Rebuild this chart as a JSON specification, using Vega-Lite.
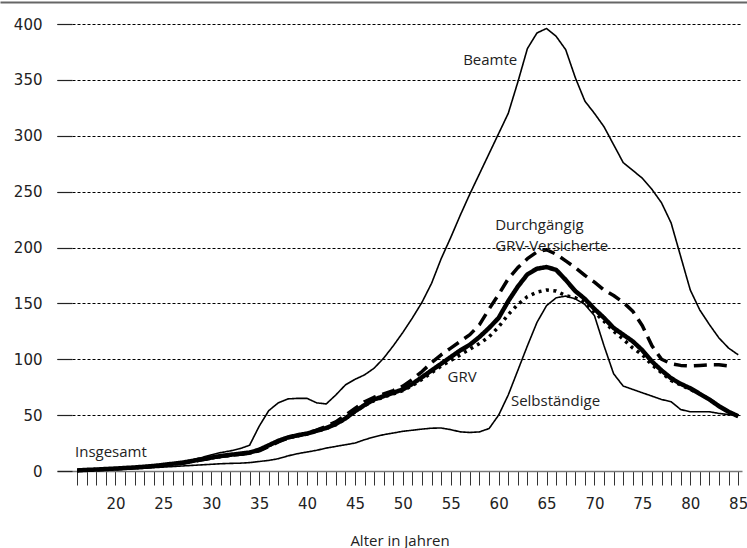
{
  "$schema": "https://vega.github.io/schema/vega-lite/v6.json",
  "width": 685,
  "height": 447,
  "autosize": {"type": "none"},
  "padding": {"left": 57, "top": 24, "right": 5, "bottom": 77},
  "background": "white",
  "config": {"view": {"stroke": null}, "font": "Open Sans"},
  "datasets": {
    "rates": [
      {"age": 16, "Beamte": 0.5, "Selbstaendige": 0.3, "Insgesamt": 0.5, "GRV": 0.5, "Durchgaengig": 0.4},
      {"age": 17, "Beamte": 1, "Selbstaendige": 0.5, "Insgesamt": 1, "GRV": 1, "Durchgaengig": 0.8},
      {"age": 18, "Beamte": 1.5, "Selbstaendige": 0.8, "Insgesamt": 1.3, "GRV": 1.3, "Durchgaengig": 1.2},
      {"age": 19, "Beamte": 2, "Selbstaendige": 1, "Insgesamt": 1.8, "GRV": 1.7, "Durchgaengig": 1.6},
      {"age": 20, "Beamte": 2.5, "Selbstaendige": 1.3, "Insgesamt": 2.2, "GRV": 2.1, "Durchgaengig": 2},
      {"age": 21, "Beamte": 3, "Selbstaendige": 1.6, "Insgesamt": 2.7, "GRV": 2.6, "Durchgaengig": 2.5},
      {"age": 22, "Beamte": 3.5, "Selbstaendige": 2, "Insgesamt": 3.2, "GRV": 3.1, "Durchgaengig": 3},
      {"age": 23, "Beamte": 4, "Selbstaendige": 2.4, "Insgesamt": 3.8, "GRV": 3.7, "Durchgaengig": 3.5},
      {"age": 24, "Beamte": 5, "Selbstaendige": 3, "Insgesamt": 4.5, "GRV": 4.4, "Durchgaengig": 4.2},
      {"age": 25, "Beamte": 6, "Selbstaendige": 3.5, "Insgesamt": 5.5, "GRV": 5.3, "Durchgaengig": 5},
      {"age": 26, "Beamte": 7, "Selbstaendige": 4, "Insgesamt": 6.5, "GRV": 6.3, "Durchgaengig": 6},
      {"age": 27, "Beamte": 8, "Selbstaendige": 4.5, "Insgesamt": 7.5, "GRV": 7.3, "Durchgaengig": 7},
      {"age": 28, "Beamte": 10, "Selbstaendige": 5, "Insgesamt": 9, "GRV": 8.8, "Durchgaengig": 8.5},
      {"age": 29, "Beamte": 12, "Selbstaendige": 5.5, "Insgesamt": 10.5, "GRV": 10.2, "Durchgaengig": 10},
      {"age": 30, "Beamte": 14.5, "Selbstaendige": 6, "Insgesamt": 12, "GRV": 11.7, "Durchgaengig": 11.5},
      {"age": 31, "Beamte": 16.5, "Selbstaendige": 6.5, "Insgesamt": 13.5, "GRV": 13.1, "Durchgaengig": 13},
      {"age": 32, "Beamte": 18, "Selbstaendige": 6.8, "Insgesamt": 14.5, "GRV": 14.1, "Durchgaengig": 14},
      {"age": 33, "Beamte": 20, "Selbstaendige": 7, "Insgesamt": 15.5, "GRV": 15, "Durchgaengig": 15},
      {"age": 34, "Beamte": 23, "Selbstaendige": 7.5, "Insgesamt": 16.5, "GRV": 16, "Durchgaengig": 16},
      {"age": 35, "Beamte": 40, "Selbstaendige": 8.5, "Insgesamt": 19, "GRV": 18.5, "Durchgaengig": 18},
      {"age": 36, "Beamte": 54, "Selbstaendige": 9.5, "Insgesamt": 23, "GRV": 22.5, "Durchgaengig": 22},
      {"age": 37, "Beamte": 61, "Selbstaendige": 11, "Insgesamt": 27, "GRV": 26.5, "Durchgaengig": 26},
      {"age": 38, "Beamte": 64.5, "Selbstaendige": 13.5, "Insgesamt": 30, "GRV": 29.5, "Durchgaengig": 29.5},
      {"age": 39, "Beamte": 65, "Selbstaendige": 15.5, "Insgesamt": 32, "GRV": 31.5, "Durchgaengig": 31.5},
      {"age": 40, "Beamte": 65, "Selbstaendige": 17, "Insgesamt": 33.5, "GRV": 33, "Durchgaengig": 33.5},
      {"age": 41, "Beamte": 61, "Selbstaendige": 18.5, "Insgesamt": 36, "GRV": 35.5, "Durchgaengig": 36.5},
      {"age": 42, "Beamte": 60, "Selbstaendige": 20.5, "Insgesamt": 38.5, "GRV": 38, "Durchgaengig": 40},
      {"age": 43, "Beamte": 68, "Selbstaendige": 22, "Insgesamt": 42, "GRV": 41.5, "Durchgaengig": 44},
      {"age": 44, "Beamte": 77, "Selbstaendige": 23.5, "Insgesamt": 47, "GRV": 46.5, "Durchgaengig": 50},
      {"age": 45, "Beamte": 82, "Selbstaendige": 25, "Insgesamt": 53.5, "GRV": 53, "Durchgaengig": 56},
      {"age": 46, "Beamte": 86, "Selbstaendige": 28, "Insgesamt": 59, "GRV": 58.5, "Durchgaengig": 62},
      {"age": 47, "Beamte": 92, "Selbstaendige": 30.5, "Insgesamt": 64, "GRV": 63, "Durchgaengig": 66},
      {"age": 48, "Beamte": 101, "Selbstaendige": 32.5, "Insgesamt": 67, "GRV": 66, "Durchgaengig": 69},
      {"age": 49, "Beamte": 112, "Selbstaendige": 34, "Insgesamt": 70, "GRV": 69, "Durchgaengig": 72},
      {"age": 50, "Beamte": 124, "Selbstaendige": 35.5, "Insgesamt": 73, "GRV": 72, "Durchgaengig": 76},
      {"age": 51, "Beamte": 137, "Selbstaendige": 36.5, "Insgesamt": 78, "GRV": 76.5, "Durchgaengig": 82},
      {"age": 52, "Beamte": 151, "Selbstaendige": 37.5, "Insgesamt": 84, "GRV": 82, "Durchgaengig": 89},
      {"age": 53, "Beamte": 168, "Selbstaendige": 38.3, "Insgesamt": 90, "GRV": 88, "Durchgaengig": 97},
      {"age": 54, "Beamte": 190, "Selbstaendige": 38.5, "Insgesamt": 96, "GRV": 94, "Durchgaengig": 104},
      {"age": 55, "Beamte": 209, "Selbstaendige": 37, "Insgesamt": 102, "GRV": 99, "Durchgaengig": 110},
      {"age": 56, "Beamte": 229, "Selbstaendige": 35, "Insgesamt": 108, "GRV": 104, "Durchgaengig": 116},
      {"age": 57, "Beamte": 248, "Selbstaendige": 34.5, "Insgesamt": 113, "GRV": 109, "Durchgaengig": 122},
      {"age": 58, "Beamte": 266, "Selbstaendige": 35, "Insgesamt": 120, "GRV": 114, "Durchgaengig": 131},
      {"age": 59, "Beamte": 284, "Selbstaendige": 38, "Insgesamt": 128, "GRV": 120, "Durchgaengig": 145},
      {"age": 60, "Beamte": 302, "Selbstaendige": 50, "Insgesamt": 137, "GRV": 129, "Durchgaengig": 158},
      {"age": 61, "Beamte": 320, "Selbstaendige": 68, "Insgesamt": 152, "GRV": 140, "Durchgaengig": 172},
      {"age": 62, "Beamte": 348, "Selbstaendige": 90, "Insgesamt": 165, "GRV": 149, "Durchgaengig": 182},
      {"age": 63, "Beamte": 378, "Selbstaendige": 112, "Insgesamt": 176, "GRV": 156, "Durchgaengig": 190},
      {"age": 64, "Beamte": 392, "Selbstaendige": 133, "Insgesamt": 181, "GRV": 160, "Durchgaengig": 196},
      {"age": 65, "Beamte": 396, "Selbstaendige": 148, "Insgesamt": 182.5, "GRV": 162, "Durchgaengig": 198},
      {"age": 66, "Beamte": 389, "Selbstaendige": 155, "Insgesamt": 180, "GRV": 161, "Durchgaengig": 194},
      {"age": 67, "Beamte": 377, "Selbstaendige": 156.5, "Insgesamt": 171, "GRV": 157, "Durchgaengig": 188},
      {"age": 68, "Beamte": 352, "Selbstaendige": 154, "Insgesamt": 161, "GRV": 155, "Durchgaengig": 182},
      {"age": 69, "Beamte": 331, "Selbstaendige": 149, "Insgesamt": 154, "GRV": 151, "Durchgaengig": 175},
      {"age": 70, "Beamte": 320, "Selbstaendige": 139, "Insgesamt": 145, "GRV": 142, "Durchgaengig": 169},
      {"age": 71, "Beamte": 308, "Selbstaendige": 112, "Insgesamt": 137, "GRV": 134, "Durchgaengig": 162},
      {"age": 72, "Beamte": 292, "Selbstaendige": 87, "Insgesamt": 128, "GRV": 125, "Durchgaengig": 157},
      {"age": 73, "Beamte": 276, "Selbstaendige": 76, "Insgesamt": 122, "GRV": 118, "Durchgaengig": 151},
      {"age": 74, "Beamte": 269, "Selbstaendige": 73, "Insgesamt": 116, "GRV": 110, "Durchgaengig": 143},
      {"age": 75, "Beamte": 262, "Selbstaendige": 70, "Insgesamt": 108, "GRV": 104, "Durchgaengig": 130},
      {"age": 76, "Beamte": 252, "Selbstaendige": 67, "Insgesamt": 98, "GRV": 95, "Durchgaengig": 112},
      {"age": 77, "Beamte": 240, "Selbstaendige": 64, "Insgesamt": 90, "GRV": 88, "Durchgaengig": 100},
      {"age": 78, "Beamte": 222, "Selbstaendige": 62, "Insgesamt": 83, "GRV": 81, "Durchgaengig": 96},
      {"age": 79, "Beamte": 192, "Selbstaendige": 55, "Insgesamt": 78, "GRV": 77, "Durchgaengig": 94.5},
      {"age": 80, "Beamte": 162, "Selbstaendige": 53, "Insgesamt": 74, "GRV": 73, "Durchgaengig": 94},
      {"age": 81, "Beamte": 144, "Selbstaendige": 53, "Insgesamt": 69, "GRV": 69, "Durchgaengig": 94.5},
      {"age": 82, "Beamte": 131, "Selbstaendige": 53, "Insgesamt": 64, "GRV": 64, "Durchgaengig": 95},
      {"age": 83, "Beamte": 119, "Selbstaendige": 51.5, "Insgesamt": 58, "GRV": 58, "Durchgaengig": 95},
      {"age": 84, "Beamte": 110, "Selbstaendige": 50.5, "Insgesamt": 53, "GRV": 53, "Durchgaengig": 94},
      {"age": 85, "Beamte": 104, "Selbstaendige": 49.5, "Insgesamt": 49, "GRV": 49, "Durchgaengig": null}
    ]
  },
  "layer": [
    {
      "data": {"name": "rates"},
      "transform": [
        {"fold": ["Beamte", "Selbstaendige", "Insgesamt", "GRV", "Durchgaengig"], "as": ["series", "value"]},
        {"filter": "datum.value != null"}
      ],
      "mark": {"type": "line", "color": "black", "strokeCap": "butt", "strokeJoin": "round"},
      "encoding": {
        "x": {
          "field": "age", "type": "quantitative",
          "scale": {"domain": [13.9, 85.4], "nice": false, "zero": false},
          "title": "Alter in Jahren",
          "axis": {
            "values": [16,17,18,19,20,21,22,23,24,25,26,27,28,29,30,31,32,33,34,35,36,37,38,39,40,41,42,43,44,45,46,47,48,49,50,51,52,53,54,55,56,57,58,59,60,61,62,63,64,65,66,67,68,69,70,71,72,73,74,75,76,77,78,79,80,81,82,83,84,85],
            "tickCount": 200,
            "format": "d",
            "grid": false,
            "domainColor": "#777777",
            "domainWidth": 1.5,
            "tickColor": "#333333",
            "tickWidth": 1,
            "tickSize": 14,
            "labelExpr": "datum.value % 5 === 0 ? datum.label : ''",
            "labelFont": "DejaVu Sans",
            "labelFontSize": 15,
            "labelColor": "#222222",
            "labelPadding": 11,
            "labelFlush": false,
            "labelOverlap": false,
            "titleFont": "Open Sans",
            "titleFontSize": 15,
            "titleFontWeight": "normal",
            "titleColor": "#222222",
            "titlePadding": 22,
            "encode": {"ticks": {"update": {"y2": {"signal": "datum.value % 5 === 0 ? 14 : 6"}}}}
          }
        },
        "y": {
          "field": "value", "type": "quantitative",
          "scale": {"domain": [0, 400], "nice": false},
          "title": null,
          "axis": {
            "values": [0, 50, 100, 150, 200, 250, 300, 350, 400],
            "tickCount": 50,
            "format": "d",
            "domain": false,
            "tickSize": -15,
            "tickColor": "#222222",
            "tickWidth": 1.2,
            "labelPadding": 30,
            "labelFont": "DejaVu Sans",
            "labelFontSize": 15,
            "labelColor": "#222222",
            "grid": true,
            "gridDash": [3, 2],
            "gridColor": "#000000",
            "gridWidth": 1,
            "gridOpacity": {"condition": {"test": "datum.value === 0", "value": 0}, "value": 1}
          }
        },
        "detail": {"field": "series", "type": "nominal"},
        "strokeWidth": {
          "field": "series", "type": "nominal", "legend": null,
          "scale": {"type": "ordinal", "domain": ["Beamte", "Selbstaendige", "Insgesamt", "GRV", "Durchgaengig"], "range": [1.6, 1.6, 4.5, 3.5, 3.5]}
        },
        "strokeDash": {
          "field": "series", "type": "nominal", "legend": null,
          "scale": {"domain": ["Beamte", "Selbstaendige", "Insgesamt", "GRV", "Durchgaengig"], "range": [[1, 0], [1, 0], [1, 0], [3, 4.5], [13, 7]]}
        }
      }
    },
    {
      "data": {"values": [{}]},
      "mark": {"type": "rule", "color": "#666666", "strokeWidth": 2, "clip": false},
      "encoding": {"x": {"datum": 8}, "x2": {"datum": 86}, "y": {"datum": 419.2}}
    },
    {
      "data": {"values": [{}]},
      "mark": {"type": "text", "align": "right", "baseline": "middle", "font": "Open Sans", "fontSize": 15, "color": "#222222"},
      "encoding": {"x": {"datum": 61.94}, "y": {"datum": 367.8}, "text": {"value": "Beamte"}}
    },
    {
      "data": {"values": [{}]},
      "mark": {"type": "text", "align": "left", "baseline": "middle", "font": "Open Sans", "fontSize": 15, "lineHeight": 21, "color": "#222222"},
      "encoding": {"x": {"datum": 59.64}, "y": {"datum": 219.7}, "text": {"value": ["Durchgängig", "GRV-Versicherte"]}}
    },
    {
      "data": {"values": [{}]},
      "mark": {"type": "text", "align": "left", "baseline": "middle", "font": "Open Sans", "fontSize": 15, "color": "#222222"},
      "encoding": {"x": {"datum": 54.66}, "y": {"datum": 84.4}, "text": {"value": "GRV"}}
    },
    {
      "data": {"values": [{}]},
      "mark": {"type": "text", "align": "left", "baseline": "middle", "font": "Open Sans", "fontSize": 15, "color": "#222222"},
      "encoding": {"x": {"datum": 61.28}, "y": {"datum": 62.6}, "text": {"value": "Selbständige"}}
    },
    {
      "data": {"values": [{}]},
      "mark": {"type": "text", "align": "left", "baseline": "middle", "font": "Open Sans", "fontSize": 15, "color": "#222222"},
      "encoding": {"x": {"datum": 15.78}, "y": {"datum": 16.6}, "text": {"value": "Insgesamt"}}
    }
  ]
}
